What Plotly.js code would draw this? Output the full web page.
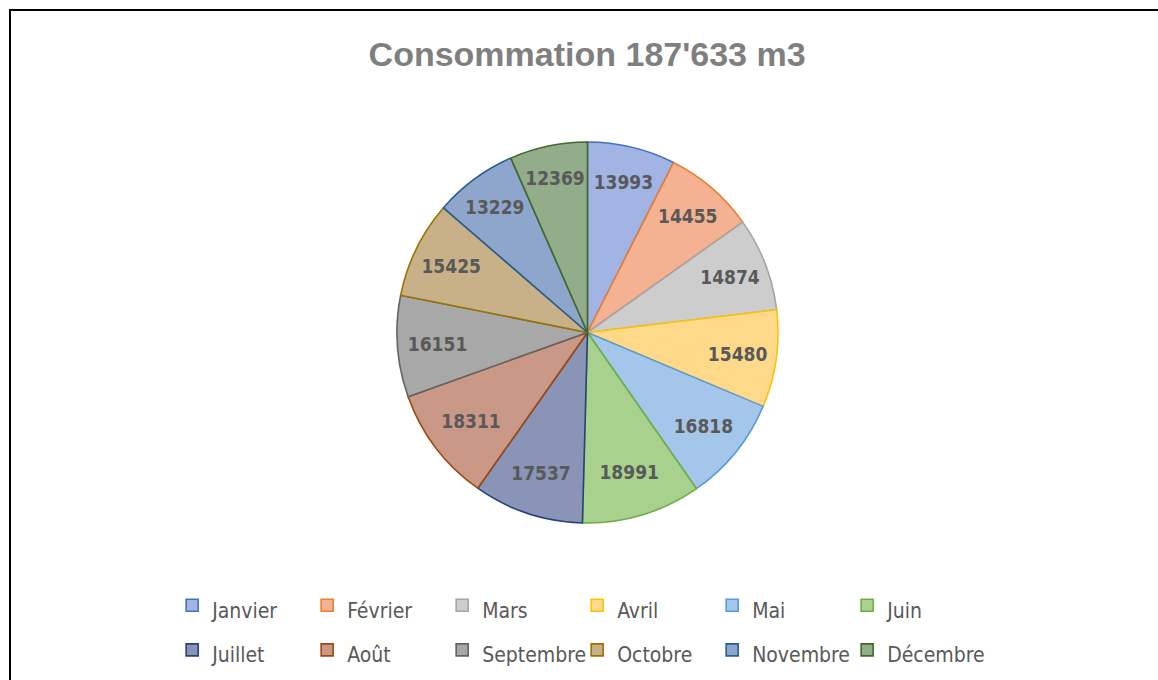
<!DOCTYPE html>
<html>
<head>
<meta charset="utf-8">
<script src="https://cdn.plot.ly/plotly-3.0.1.min.js"></script>
<style>
  html, body { margin: 0; padding: 0; background: #fff; }
  #wrap { position: relative; width: 1158px; height: 680px; overflow: hidden; }
  #chart { width: 1158px; height: 680px; }
  #chart .legend .scrollbox { clip-path: none !important; }
  #frame { position: absolute; left: 9px; top: 9px; width: 1200px; height: 720px;
           border-top: 2px solid #000; border-left: 2px solid #000; pointer-events: none; }
</style>
</head>
<body>
<div id="wrap">
  <div id="chart"></div>
  <div id="frame"></div>
</div>
<script>
const months = ['Janvier', 'Février', 'Mars', 'Avril', 'Mai', 'Juin',
                'Juillet', 'Août', 'Septembre', 'Octobre', 'Novembre', 'Décembre'];
const consumption = [13993, 14455, 14874, 15480, 16818, 18991,
                     17537, 18311, 16151, 15425, 13229, 12369];
const chartTitle = "Consommation 187'633 m3";

const fillColors = ['#A2B4E4', '#F5B293', '#CDCDCD', '#FFD98A', '#A4C6EA', '#A9D18E',
                    '#8A94B6', '#C99886', '#A8A8A8', '#C8B088', '#8FA6CC', '#93AC8A'];
const lineColors = ['#4472C4', '#ED7D31', '#A5A5A5', '#FFC000', '#5B9BD5', '#70AD47',
                    '#264478', '#9E480E', '#636363', '#997300', '#255E91', '#43682B'];

const narrow = '"DejaVu Sans Condensed", "Liberation Sans", sans-serif';

const trace = {
  type: 'pie',
  labels: months.map(m => '<span style="font-size:21px">' + m + '</span>'),
  values: consumption,
  sort: false,
  direction: 'clockwise',
  rotation: 0,
  marker: { colors: fillColors, line: { color: lineColors, width: 1.6 } },
  texttemplate: '%{value:.0f}',
  textinfo: 'value',
  textposition: 'inside',
  insidetextorientation: 'horizontal',
  textfont: { family: narrow, size: 19, color: '#595959', weight: 'bold' },
  hoverinfo: 'label+value+percent',
  domain: { x: [0.2730, 0.7120], y: [0.0175, 0.97] }
};

const layout = {
  width: 1158, height: 680,
  paper_bgcolor: '#ffffff', plot_bgcolor: '#ffffff',
  margin: { l: 160, r: 130, t: 130, b: 150, autoexpand: false },
  title: {
    text: '<b>' + chartTitle + '</b>',
    font: { family: '"Liberation Sans", Arial, sans-serif', size: 34, color: '#7F7F7F' },
    x: 0.507, xanchor: 'center', xref: 'container',
    y: 0.92, yanchor: 'middle', yref: 'container'
  },
  showlegend: true,
  legend: {
    orientation: 'h',
    x: 0.014, xanchor: 'left',
    y: -0.12, yanchor: 'top',
    entrywidth: 90, entrywidthmode: 'pixels',
    font: { family: narrow, size: 32, color: '#595959' },
    traceorder: 'normal',
    bgcolor: 'rgba(0,0,0,0)'
  }
};

Plotly.newPlot('chart', [trace], layout, { displayModeBar: false, staticPlot: true });
</script>
</body>
</html>
